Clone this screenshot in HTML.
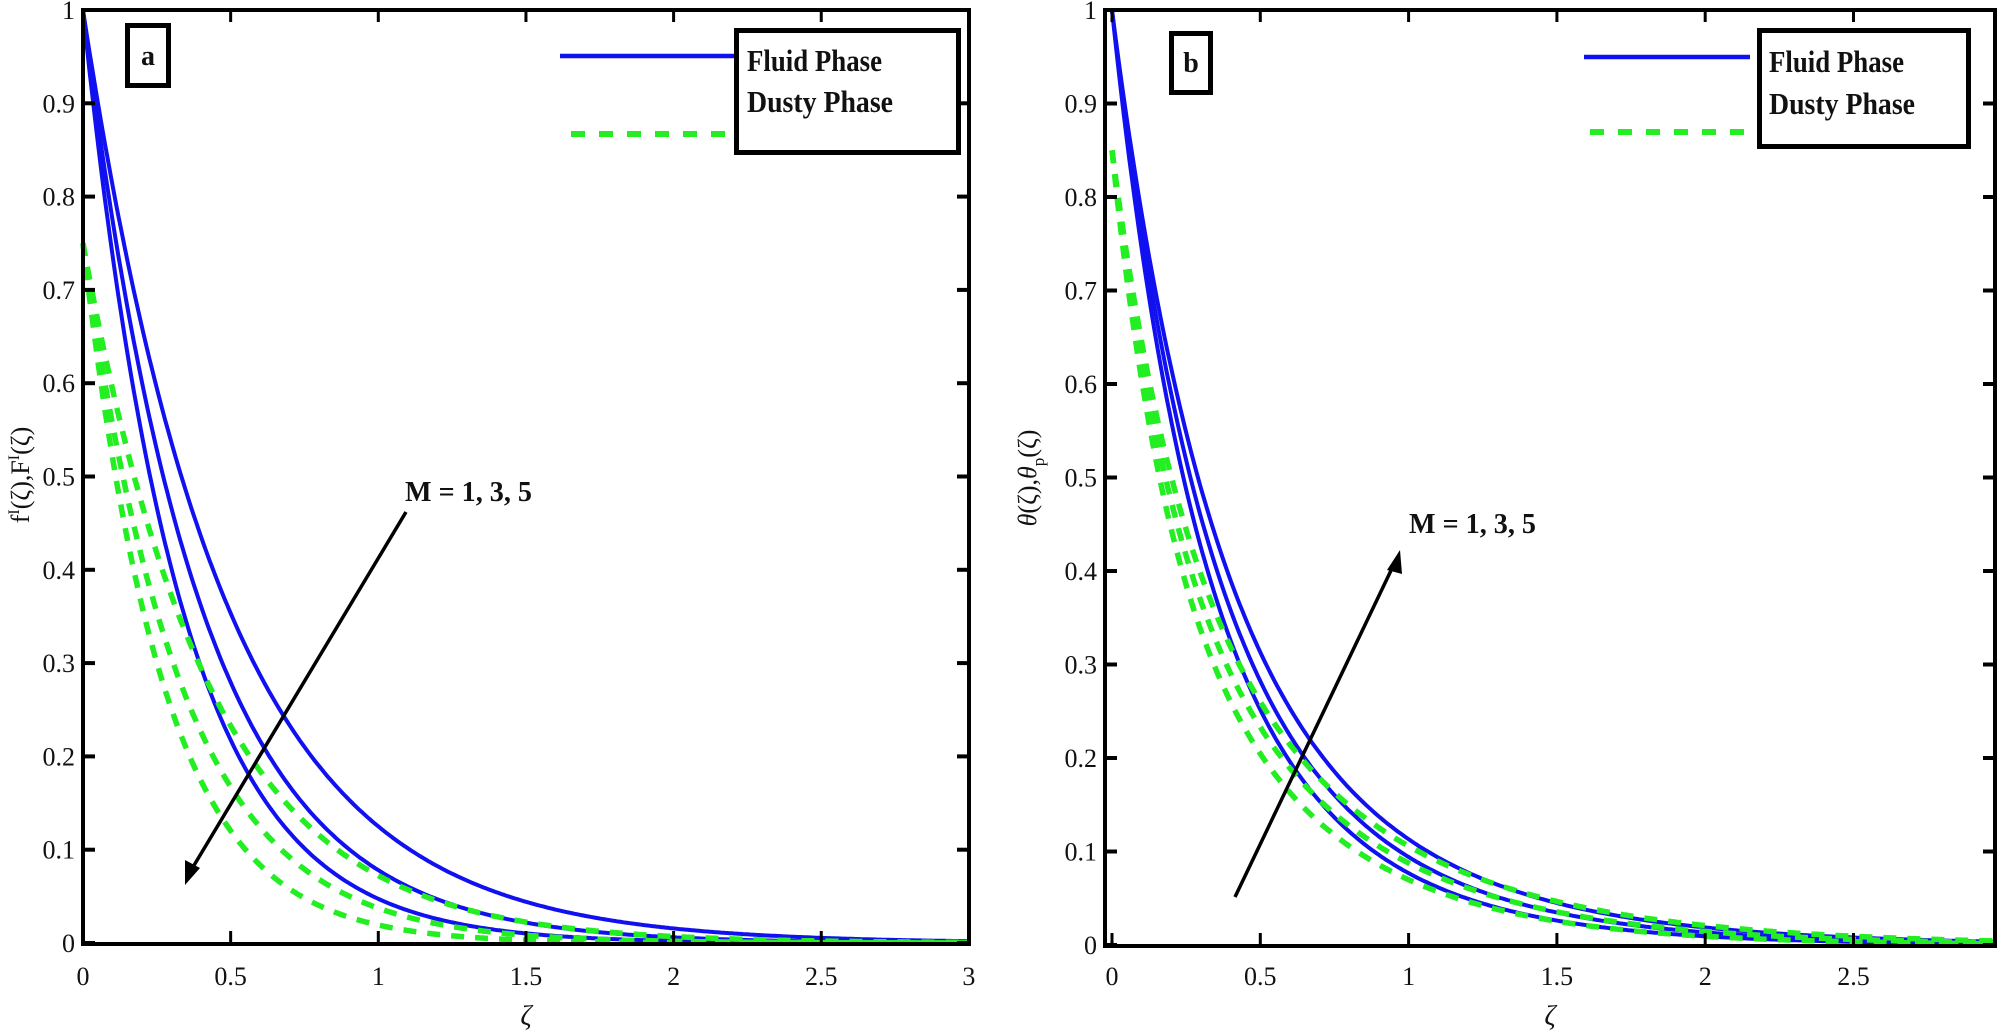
<!DOCTYPE html>
<html><head><meta charset="utf-8"><style>
html,body{margin:0;padding:0;background:#fff;}
svg{display:block;}
text{font-family:"Liberation Serif",serif;fill:#111;}
</style></head><body>
<svg id="s" width="2000" height="1036" viewBox="0 0 2000 1036" xmlns="http://www.w3.org/2000/svg">
<rect width="2000" height="1036" fill="#fff"/>
<g id="g"></g>
<text x="29" y="475" font-size="26" text-anchor="middle" transform="rotate(-90 29 475)">f<tspan font-size="16" dy="-10">I</tspan><tspan dy="10">(ζ),F</tspan><tspan font-size="16" dy="-10">I</tspan><tspan dy="10">(ζ)</tspan></text>
<text x="526" y="1025" font-size="28" font-style="italic" text-anchor="middle">ζ</text>
<text x="1036" y="478" font-size="26" text-anchor="middle" transform="rotate(-90 1036 478)"><tspan font-style="italic">θ</tspan>(ζ),<tspan font-style="italic">θ</tspan><tspan font-size="17" dy="8">p</tspan><tspan dy="-8">(ζ)</tspan></text>
<text x="1550" y="1025" font-size="28" font-style="italic" text-anchor="middle">ζ</text>
<rect x="127.5" y="25.5" width="41" height="60" fill="#fff" stroke="#000" stroke-width="5"/>
<text x="148" y="65" font-size="28" font-weight="bold" text-anchor="middle">a</text>
<rect x="1171.5" y="33.5" width="39" height="59" fill="#fff" stroke="#000" stroke-width="5"/>
<text x="1191" y="72" font-size="28" font-weight="bold" text-anchor="middle">b</text>
<line x1="560" y1="56" x2="735" y2="56" stroke="#1010f0" stroke-width="4.5"/>
<line x1="571" y1="134" x2="728" y2="134" stroke="#22ee22" stroke-width="6" stroke-dasharray="14,14"/>
<rect x="736.5" y="30.5" width="222" height="122" fill="#fff" stroke="#000" stroke-width="5"/>
<text x="747" y="71" font-size="31" font-weight="bold" textLength="135" lengthAdjust="spacingAndGlyphs">Fluid Phase</text>
<text x="747" y="112" font-size="31" font-weight="bold" textLength="146" lengthAdjust="spacingAndGlyphs">Dusty Phase</text>
<line x1="1584" y1="57" x2="1750" y2="57" stroke="#1010f0" stroke-width="4.5"/>
<line x1="1590" y1="132" x2="1746" y2="132" stroke="#22ee22" stroke-width="6" stroke-dasharray="14,14"/>
<rect x="1759.5" y="30.5" width="209" height="116" fill="#fff" stroke="#000" stroke-width="5"/>
<text x="1769" y="72" font-size="31" font-weight="bold" textLength="135" lengthAdjust="spacingAndGlyphs">Fluid Phase</text>
<text x="1769" y="114" font-size="31" font-weight="bold" textLength="146" lengthAdjust="spacingAndGlyphs">Dusty Phase</text>
<text x="405" y="501" font-size="29" font-weight="bold" textLength="127" lengthAdjust="spacingAndGlyphs">M = 1, 3, 5</text>
<line x1="406" y1="512" x2="190" y2="872" stroke="#000" stroke-width="3.5"/>
<polygon points="185,885 185,860 200,868" fill="#000"/>
<text x="1409" y="533" font-size="29" font-weight="bold" textLength="127" lengthAdjust="spacingAndGlyphs">M = 1, 3, 5</text>
<line x1="1235" y1="897" x2="1396" y2="560" stroke="#000" stroke-width="3.5"/>
<polygon points="1400,550 1387,570 1402,574" fill="#000"/>
</svg>
<script>
var g=document.getElementById('g');var NS='http://www.w3.org/2000/svg';
function el(t,a,p){var e=document.createElementNS(NS,t);for(var k in a)e.setAttribute(k,a[k]);if(p!==undefined)e.textContent=p;g.appendChild(e);return e;}
function panel(P){
 var X=function(v){return P.x0+v*P.sx;},Y=function(v){return P.yb-v*P.sy;};
 P.blue.forEach(function(f){var d='';for(var i=0;i<=400;i++){var x=P.xmax*i/400;d+=(i?'L':'M')+X(x).toFixed(1)+' '+Y(f(x)).toFixed(1);}el('path',{d:d,fill:'none',stroke:'#1010f0','stroke-width':4});});
 P.green.forEach(function(f){var d='';for(var i=0;i<=400;i++){var x=P.xmax*i/400;d+=(i?'L':'M')+X(x).toFixed(1)+' '+Y(f(x)).toFixed(1);}el('path',{d:d,fill:'none',stroke:'#22ee22','stroke-width':5.5,'stroke-dasharray':'13,11'});});
 el('rect',{x:P.L,y:P.T,width:P.R-P.L,height:P.yb-P.T+1,fill:'none',stroke:'#000','stroke-width':4});
 for(var i=0;i<=10;i++){var v=i/10,y=Y(v);
  el('line',{x1:P.L,y1:y,x2:P.L+12,y2:y,stroke:'#000','stroke-width':4});
  el('line',{x1:P.R,y1:y,x2:P.R-12,y2:y,stroke:'#000','stroke-width':4});
  el('text',{x:P.L-8,y:y+9,'font-size':26,'text-anchor':'end'},i==0?'0':i==10?'1':('0.'+i));}
 P.xt.forEach(function(v){var x=X(v);
  el('line',{x1:x,y1:P.yb,x2:x,y2:P.yb-12,stroke:'#000','stroke-width':3});
  el('line',{x1:x,y1:P.T,x2:x,y2:P.T+12,stroke:'#000','stroke-width':3});
  el('text',{x:x,y:985,'font-size':26,'text-anchor':'middle'},String(v));});
}
function ex(a){return function(x){return Math.exp(-a*x);};}
function gl(b){return function(x){return 0.75*Math.exp(-b*x);};}
panel({L:83,R:969,T:10,yb:943,x0:83,sx:295.3,sy:933,xmax:3,xt:[0,0.5,1,1.5,2,2.5,3],
 blue:[ex(2.08),ex(2.55),ex(3.05)],green:[gl(2.34),gl(3.0),gl(3.66)]});
function th(s){return function(x){return 0.5*Math.exp(-4*s*x)+0.5*Math.exp(-2*s*x);};}
function tp(s){return function(x){return 0.85*(0.4*Math.exp(-6*s*x)+0.6*Math.exp(-2*s*x));};}
panel({L:1105,R:1995,T:10,yb:945,x0:1112,sx:296.6,sy:935,xmax:2.975,xt:[0,0.5,1,1.5,2,2.5],
 blue:[th(1),th(0.91),th(0.83)],green:[tp(1),tp(0.89),tp(0.8)]});
</script>
</body></html>
